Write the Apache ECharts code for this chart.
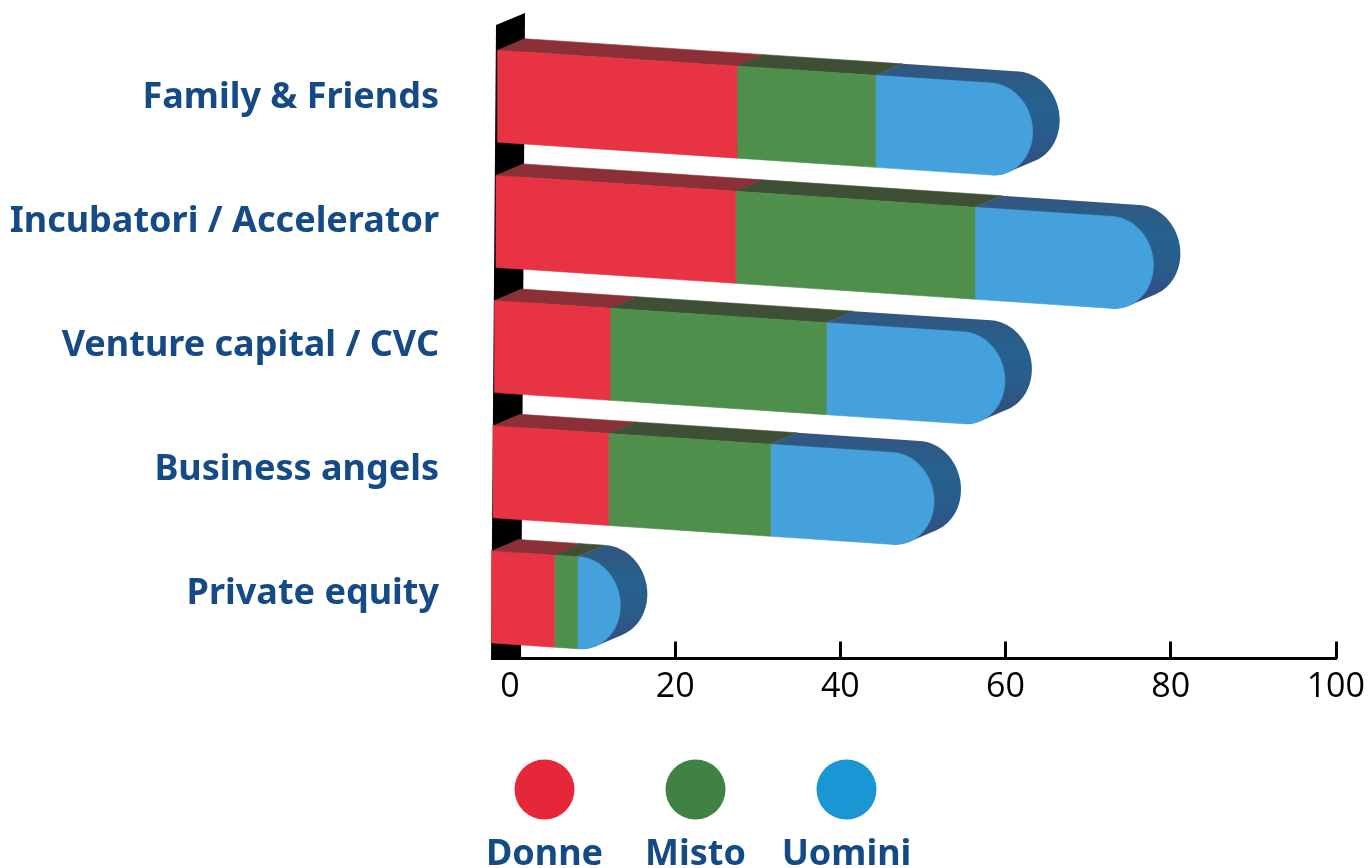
<!DOCTYPE html>
<html>
<head>
<meta charset="utf-8">
<style>html,body{margin:0;padding:0;background:#fff;overflow:hidden}#c{width:1368px;height:868px}</style>
<script src="https://cdn.jsdelivr.net/npm/echarts@6/dist/echarts.min.js"></script>
</head>
<body>
<div id="c"></div>
<script>
const categories = ['Family & Friends','Incubatori / Accelerator','Venture capital / CVC','Business angels','Private equity'];
const seriesNames = ['Donne','Misto','Uomini'];
const donne  = [29.0, 29.0, 14.0, 14.0, 7.6];
const misto  = [16.8, 29.0, 26.2, 19.6, 2.8];
const uomini = [19.0, 21.6, 21.6, 19.8, 5.2];
const xTicks = {min:0, max:100, interval:20};

const legendColors = ['#e62739','#408243','#1b96d4'];
const frontColors = ['#e83344','#4e8f4b','#45a1dc'];
const topColors = ['#8a3036','#3f4f35','#33557f'];
const TEXT = '#144a86';
const SLOPE = 0.0665, H = 92, DX = 27, DY = -11.5, RX = 41;

function hull(pts){
  const p = pts.slice().sort((a,b)=>a[0]-b[0]||a[1]-b[1]);
  const cross=(o,a,b)=>(a[0]-o[0])*(b[1]-o[1])-(a[1]-o[1])*(b[0]-o[0]);
  const lo=[],up=[];
  for(const q of p){while(lo.length>1&&cross(lo[lo.length-2],lo[lo.length-1],q)<=0)lo.pop();lo.push(q);}
  for(const q of p.slice().reverse()){while(up.length>1&&cross(up[up.length-2],up[up.length-1],q)<=0)up.pop();up.push(q);}
  lo.pop();up.pop();return lo.concat(up);
}
function poly(points,fill){
  return {type:'polygon',shape:{points},style:{fill,stroke:typeof fill==='string'?fill:null,lineWidth:typeof fill==='string'?0.6:0}};
}
function renderRow(params,api){
  const row = api.value(3);
  const base = api.coord([0,row]);
  const scale = (api.coord([100,row])[0]-base[0])/100;
  const x0 = base[0]-12.5-1.5*row;
  const cy = base[1]-1.8+1.2*row;
  const tx = v=>x0+v*scale;
  const topY = x=>cy-H/2+(x-x0)*SLOPE;
  const botY = x=>cy+H/2+(x-x0)*SLOPE;
  const vals=[api.value(0),api.value(1),api.value(2)];
  const edges=[0,vals[0],vals[0]+vals[1],vals[0]+vals[1]+vals[2]].map(tx);
  const rx=Math.min(RX,edges[3]-edges[2]);
  const sx=edges[3]-rx;
  const midY=(topY(sx)+botY(sx))/2;
  const cap=[];
  for(let i=0;i<=48;i++){
    const t=-Math.PI/2+Math.PI*i/48;
    const ex=rx*Math.cos(t);
    cap.push([sx+ex,midY+(H/2)*Math.sin(t)+ex*SLOPE]);
  }
  const children=[];
  for(let s=0;s<2;s++){
    const a=edges[s],b=edges[s+1];
    children.push(poly([[a,topY(a)],[b,topY(b)],[b+DX,topY(b)+DY],[a+DX,topY(a)+DY]],topColors[s]));
  }
  const a=edges[2];
  const sweep=[[a,topY(a)],[a+DX,topY(a)+DY]];
  cap.forEach(p=>{sweep.push(p);sweep.push([p[0]+DX,p[1]+DY]);});
  children.push(poly(hull(sweep),{type:'linear',x:0,y:0,x2:0,y2:1,colorStops:[
    {offset:0,color:'#33557f'},{offset:0.35,color:'#25628f'},{offset:0.7,color:'#2a5a8a'},{offset:1,color:'#35487a'}]}));
  children.push(poly([[a,topY(a)]].concat(cap,[[a,botY(a)]]),frontColors[2]));
  for(let s=1;s>=0;s--){
    const l=edges[s],r=edges[s+1];
    children.push(poly([[l,topY(l)],[r,topY(r)],[r,botY(r)],[l,botY(l)]],frontColors[s]));
  }
  return {type:'group',children};
}
function renderWall(params,api){
  const o=api.coord([0,0]);
  const pts=[[-14,-73],[15,-85],[11,562],[-19,562]].map(d=>[o[0]+d[0],o[1]+d[1]]);
  return {type:'polygon',shape:{points:pts},style:{fill:'#000'}};
}

const rows = categories.map((c,i)=>[donne[i],misto[i],uomini[i],i]);
const legendX=[544.5,695.5,846.5];
const graphic=[];
seriesNames.forEach((n,i)=>{
  graphic.push({type:'circle',shape:{cx:legendX[i],cy:789.5,r:30},style:{fill:legendColors[i]}});
  graphic.push({type:'text',x:legendX[i],y:855,style:{text:n,fill:TEXT,font:'700 36px "Noto Sans"',textAlign:'center',textVerticalAlign:'middle'}});
});

const chart=echarts.init(document.getElementById('c'),null,{renderer:'canvas'});
chart.setOption({
  animation:false,
  backgroundColor:'#fff',
  grid:{left:510,right:30.5,top:36,bottom:212,containLabel:false},
  xAxis:{type:'value',min:xTicks.min,max:xTicks.max,interval:xTicks.interval,offset:2.5,
    splitLine:{show:false},
    axisLine:{show:true,lineStyle:{color:'#000',width:3}},
    axisTick:{show:true,inside:true,length:17,lineStyle:{color:'#000',width:3}},
    axisLabel:{color:'#000',fontFamily:'"Open Sans"',fontSize:34,margin:12,hideOverlap:false,showMinLabel:true,showMaxLabel:true}},
  yAxis:{type:'category',inverse:true,data:categories,
    axisLine:{show:false},axisTick:{show:false},
    axisLabel:{color:TEXT,fontFamily:'"Noto Sans"',fontWeight:700,fontSize:36,margin:71,align:'right'}},
  series:[
    {type:'custom',coordinateSystem:'cartesian2d',renderItem:renderWall,data:[[0,0]],encode:{x:0,y:1},silent:true,z:1,clip:false},
    {type:'custom',coordinateSystem:'cartesian2d',renderItem:renderRow,data:rows,encode:{x:[0,1,2],y:3},silent:true,z:2,clip:false}
  ],
  graphic:{elements:graphic}
});
</script>
</body>
</html>
